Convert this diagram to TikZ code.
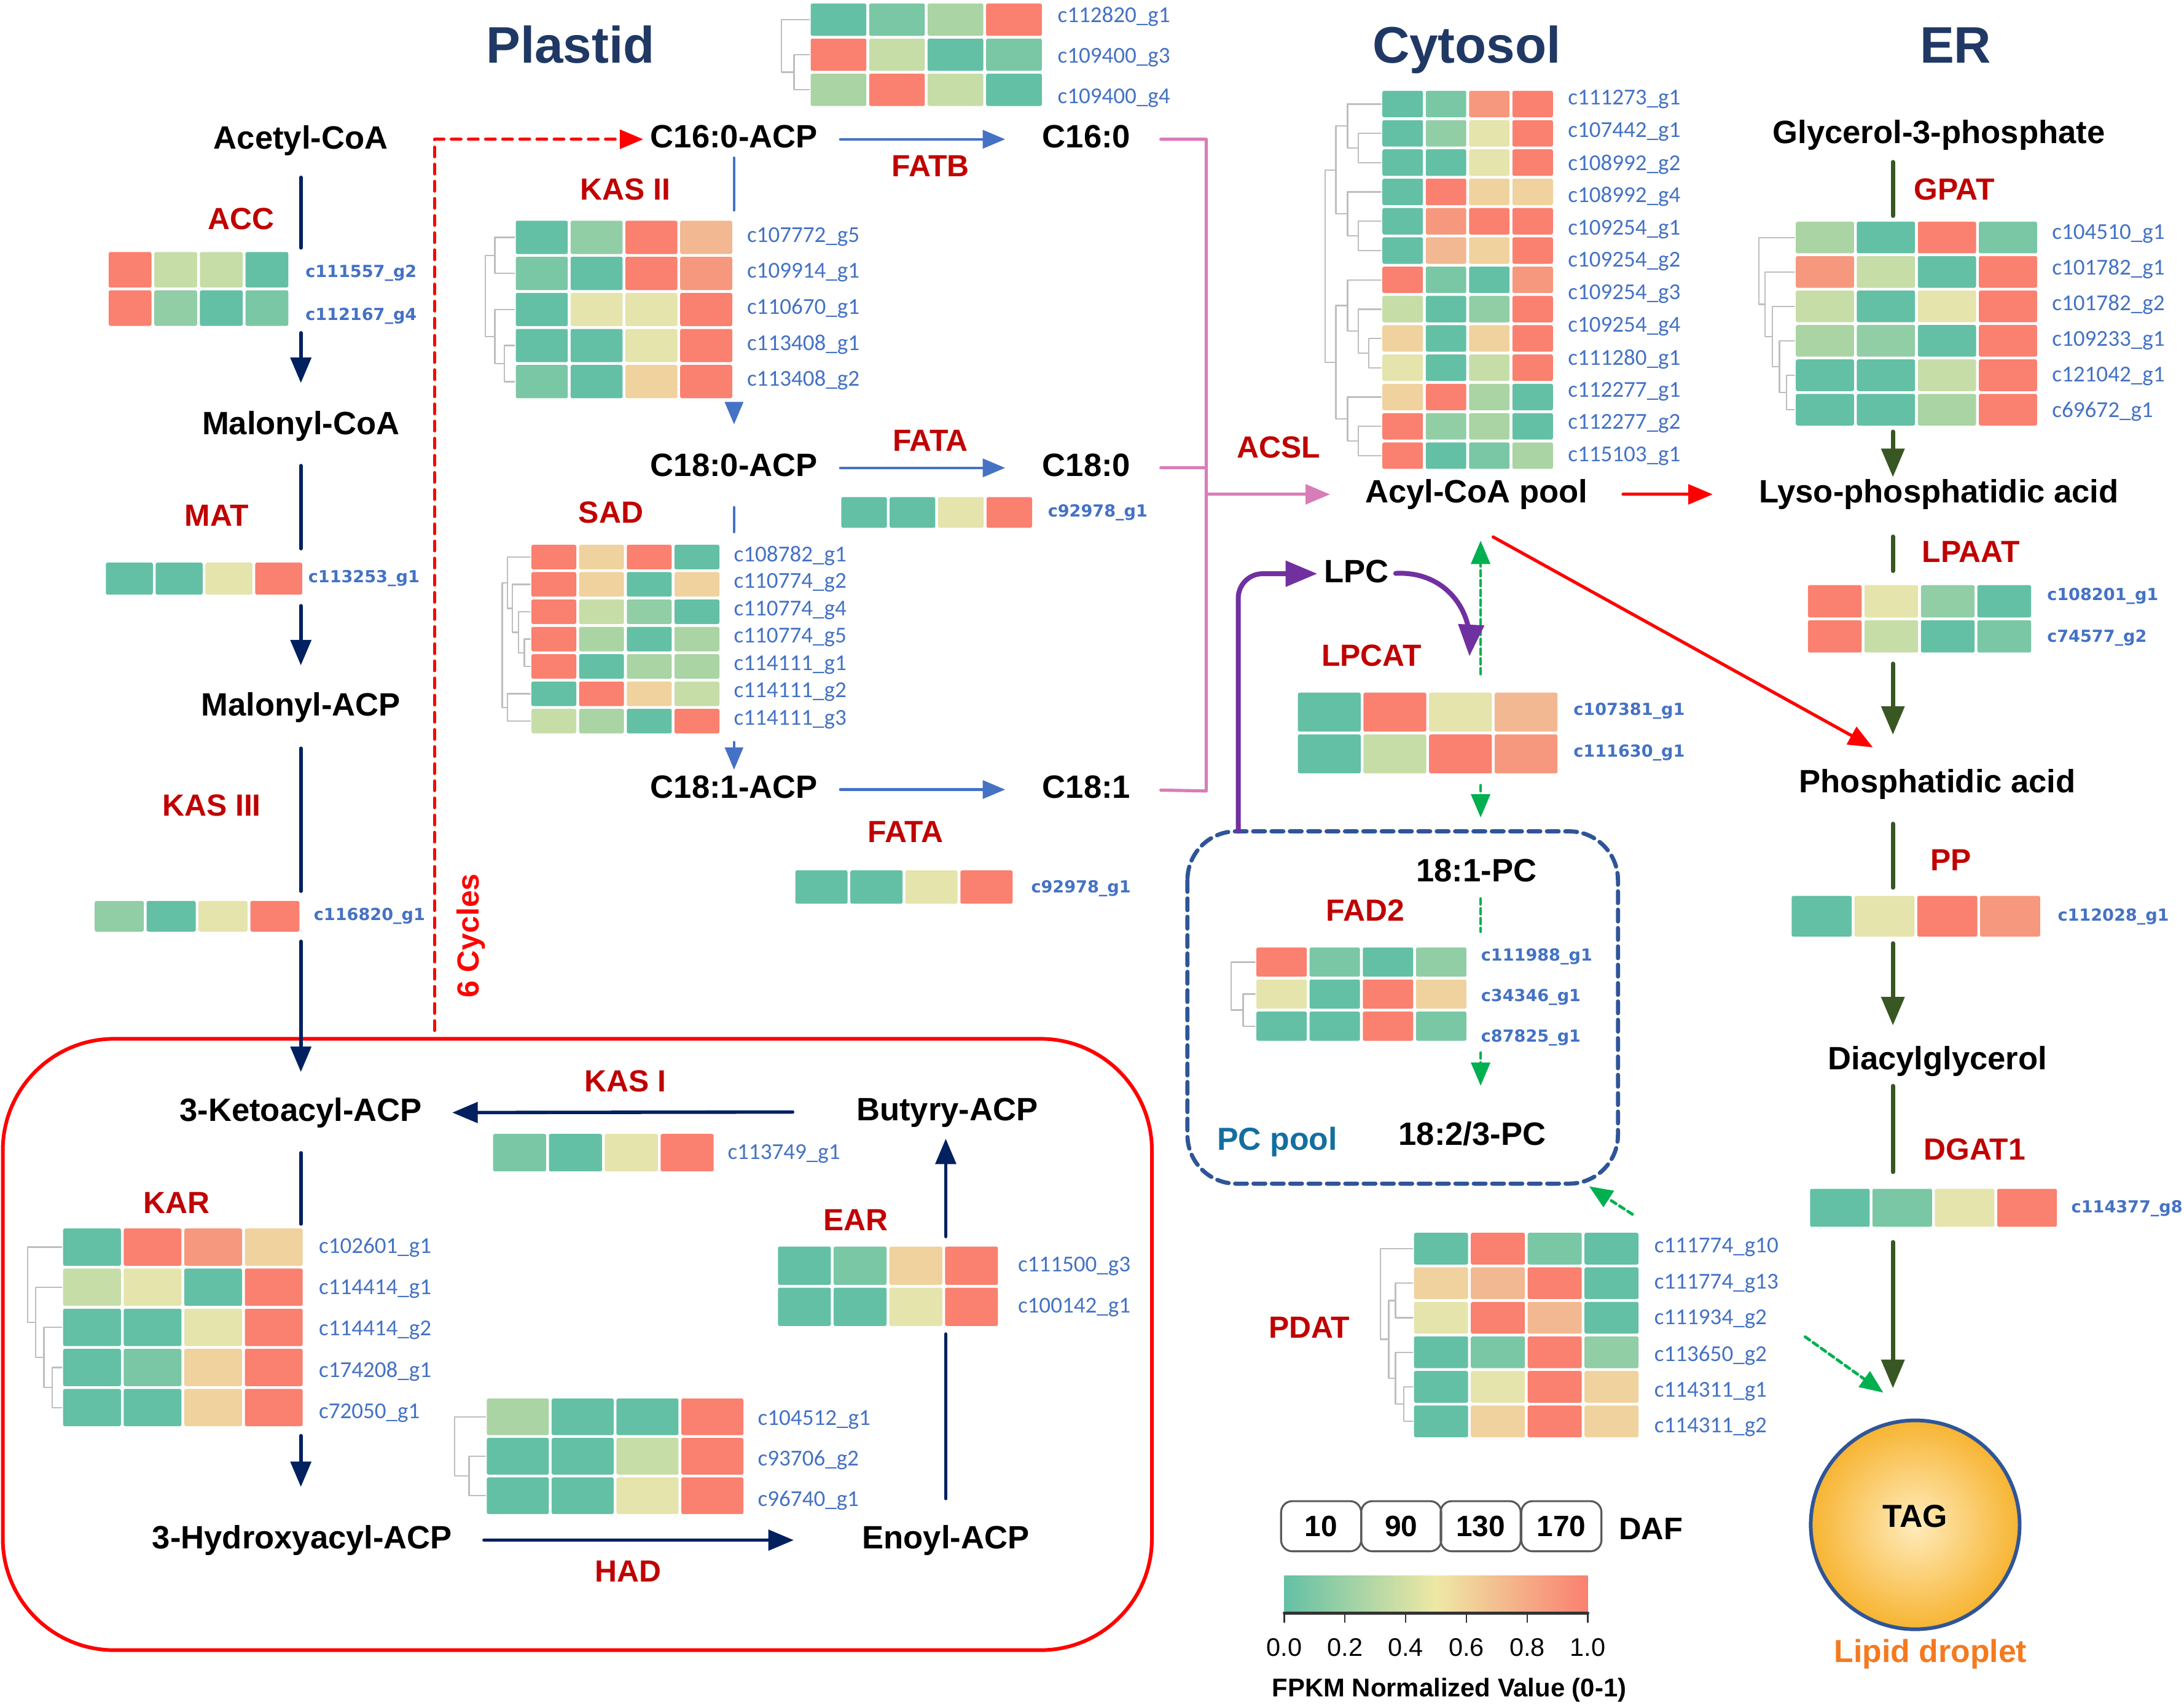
\documentclass[tikz,border=0pt]{standalone}
\usepackage{fontspec}
\setmainfont{Liberation Sans}
\newfontfamily\calfont{Carlito}
\newfontfamily\dvfont{DejaVu Sans}
\usetikzlibrary{arrows}

\definecolor{hm0}{RGB}{99,192,165}
\definecolor{hm1}{RGB}{122,199,165}
\definecolor{hm2}{RGB}{145,205,165}
\definecolor{hm3}{RGB}{170,212,163}
\definecolor{hm4}{RGB}{198,221,168}
\definecolor{hm5}{RGB}{228,228,172}
\definecolor{hm6}{RGB}{239,210,158}
\definecolor{hm7}{RGB}{242,184,145}
\definecolor{hm8}{RGB}{246,152,125}
\definecolor{hm9}{RGB}{250,128,112}
\definecolor{barmid}{RGB}{238,232,165}
\definecolor{navyarr}{RGB}{0,32,96}
\definecolor{titleblue}{RGB}{32,56,100}
\definecolor{enzred}{RGB}{192,0,0}
\definecolor{geneblue}{RGB}{68,114,196}
\definecolor{flowblue}{RGB}{68,114,196}
\definecolor{ergreen}{RGB}{56,87,35}
\definecolor{acslpink}{RGB}{217,125,185}
\definecolor{lpcpurple}{RGB}{112,48,160}
\definecolor{dashgreen}{RGB}{0,176,80}
\definecolor{poolblue}{RGB}{47,85,151}
\definecolor{pooltext}{RGB}{20,110,160}
\definecolor{dropor}{RGB}{244,122,32}
\definecolor{tagin}{RGB}{255,236,188}
\definecolor{tagout}{RGB}{247,180,50}
\definecolor{dendgray}{RGB}{190,190,190}

\tikzset{
  cpd/.style={font=\bfseries\fontsize{13.2}{14}\selectfont, inner sep=0pt, text height=9.9pt, text depth=2.9pt},
  enz/.style={text=enzred, font=\bfseries\fontsize{12.5}{13}\selectfont, inner sep=0pt, text height=9.4pt, text depth=2.7pt},
  ttl/.style={text=titleblue, font=\bfseries\fontsize{21}{24}\selectfont, anchor=base, inner sep=0pt},
  gene/.style={anchor=west, inner sep=0pt, text=geneblue, font=\calfont\fontsize{9.3}{10}\selectfont},
  genew/.style={anchor=west, inner sep=0pt, text=geneblue, font=\dvfont\bfseries\fontsize{6.8}{8}\selectfont},
  navyl/.style={draw=navyarr, line width=1.4pt},
  bluel/.style={draw=flowblue, line width=1.1pt},
  greenl/.style={draw=ergreen, line width=1.7pt},
  pinkl/.style={draw=acslpink, line width=1.3pt},
  redl/.style={draw=red, line width=1.3pt},
  purpl/.style={draw=lpcpurple, line width=2pt},
  gdash/.style={draw=dashgreen, line width=1.2pt, dash pattern=on 2.3pt off 1.7pt},
  dendro/.style={draw=dendgray, line width=0.6pt},
  dafbox/.style={draw=gray!70!black, line width=0.8pt, rounded corners=1.6mm, minimum width=11.5mm, minimum height=7.2mm, inner sep=0pt, font=\bfseries\fontsize{12}{13}\selectfont}
}

% heatmap: x0, y0, cell width, cell height, rows of four levels
\newcommand{\hmap}[5]{%
  \foreach \pa/\pb/\pc/\pd [count=\hr from 0] in {#5}{
    \foreach \hv [count=\hk from 0] in {\pa,\pb,\pc,\pd}
      \fill[hm\hv, rounded corners=0.25mm] ({#1+\hk*#3+1},{#2+\hr*#4+1}) rectangle ({#1+(\hk+1)*#3-1},{#2+(\hr+1)*#4-1});
  }}
% gene ids: name, x, y0, step, style, ids
\newcommand{\genes}[6]{%
  \foreach \gid [count=\gi from 0] in {#6}
    \node[#5] (#1\gi) at (#2,{#3+\gi*#4}) {\gid};}
% dendrogram join
\newcommand{\dg}[5]{\draw[dendro] (#2,#3) -- (#1,#3) -- (#1,#5) -- (#4,#5);}

\begin{document}
\begin{tikzpicture}[line cap=round,line join=round,>=triangle 45,x=0.2mm,y=-0.2mm]
\useasboundingbox (0,0) rectangle (1568,1224);

\node[ttl] (plastid) at (409.5,45) {Plastid};
\node[ttl] (cytosol) at (1053,45) {Cytosol};
\node[ttl] (er) at (1404,45) {ER};

\node[cpd] (acetyl) at (216,101) {Acetyl-CoA};
\node[cpd] (malcoa) at (216,306) {Malonyl-CoA};
\node[cpd] (malacp) at (216,508) {Malonyl-ACP};
\node[cpd] (keto) at (216,799) {3-Ketoacyl-ACP};
\node[cpd] (hydroxy) at (217,1106) {3-Hydroxyacyl-ACP};
\node[cpd] (enoyl) at (679,1106) {Enoyl-ACP};
\node[cpd] (butyry) at (680,798.5) {Butyry-ACP};
\node[cpd] (c16acp) at (527,100) {C16:0-ACP};
\node[cpd] (c18acp) at (527,336) {C18:0-ACP};
\node[cpd] (c181acp) at (527,567) {C18:1-ACP};
\node[cpd] (c16) at (780,100) {C16:0};
\node[cpd] (c18) at (780,336) {C18:0};
\node[cpd] (c181) at (780,567) {C18:1};
\node[cpd] (acyl) at (1060,355) {Acyl-CoA pool};
\node[cpd] (lpc) at (974,412) {LPC};
\node[cpd] (pc181) at (1060,627) {18:1-PC};
\node[cpd] (pc183) at (1057,816) {18:2/3-PC};
\node[cpd] (g3p) at (1392,97) {Glycerol-3-phosphate};
\node[cpd] (lpa) at (1392,355) {Lyso-phosphatidic acid};
\node[cpd] (pa) at (1391,563) {Phosphatidic acid};
\node[cpd] (dag) at (1391,762) {Diacylglycerol};

\node[enz] (acc) at (173.3,159) {ACC};
\node[enz] (mat) at (155.6,372) {MAT};
\node[enz] (kas3) at (152,580) {KAS III};
\node[enz] (kas2) at (449,137.6) {KAS II};
\node[enz] (fatb) at (668,121) {FATB};
\node[enz] (fata) at (668,318) {FATA};
\node[enz] (sad) at (438.6,369.6) {SAD};
\node[enz] (fatb2) at (650,599) {FATA};
\node[enz] (acsl) at (918,323) {ACSL};
\node[enz] (gpat) at (1403,137.6) {GPAT};
\node[enz] (lpaat) at (1415,398) {LPAAT};
\node[enz] (pp) at (1400.5,619.4) {PP};
\node[enz] (dgat) at (1417.8,827) {DGAT1};
\node[enz] (lpcat) at (984.6,472.4) {LPCAT};
\node[enz] (fad2) at (980.3,655.4) {FAD2};
\node[enz] (pdat) at (940,955) {PDAT};
\node[enz] (kas1) at (449,777.9) {KAS I};
\node[enz] (kar) at (126.6,865.5) {KAR};
\node[enz] (ear) at (614.4,877.8) {EAR};
\node[enz] (had) at (451,1130) {HAD};
\node[enz, text=red, rotate=90] (cycles) at (338,672) {6 Cycles};

\coordinate (accT) at (216,178); \coordinate (accB) at (216,239);
\coordinate (matT) at (216,394); \coordinate (matB) at (216,435);
\coordinate (k3T) at (216,640); \coordinate (k3B) at (216,676);
\coordinate (karT) at (216,879); \coordinate (karB) at (216,1031);
\coordinate (earB) at (679,958); \coordinate (earT) at (679,888);
\coordinate (k2T) at (527,151); \coordinate (k2B) at (527,290);
\coordinate (sadT) at (527,382); \coordinate (sadB) at (527,533);
\coordinate (brT) at (866,100); \coordinate (brM) at (866,336);
\coordinate (brB) at (866,568); \coordinate (brA) at (866,355);
\coordinate (gpT) at (1359,155); \coordinate (gpB) at (1359,310);
\coordinate (lpT) at (1359,410); \coordinate (lpB) at (1359,476.6);
\coordinate (ppT) at (1359,637.4); \coordinate (ppB) at (1359,677.4);
\coordinate (dgT) at (1359,841.6); \coordinate (dgB) at (1359,892);
\coordinate (cyc) at (312,740);
\coordinate (lcUp) at (1063,484); \coordinate (lcDn) at (1063,564); \coordinate (pcIn) at (1063,587);
\coordinate (fdT) at (1063,669); \coordinate (fdB) at (1063,756);
\coordinate (pdS) at (1172,872); \coordinate (pdE) at (1141,852);
\coordinate (tgS) at (1296,960); \coordinate (tgE) at (1352,1000);
\coordinate (pcT) at (889,597); \coordinate (lpcIn) at (1055,471);

\draw[red, line width=1.5pt, rounded corners=16mm] (2,746) rectangle (827,1185);
\draw[poolblue, line width=1.7pt, dash pattern=on 4.8pt off 2.7pt, rounded corners=7mm] (852.5,597) rectangle (1161.6,850);
\node[font=\bfseries\fontsize{13}{14}\selectfont, text=pooltext, inner sep=0pt] (pcpool) at (917,820) {PC pool};

\draw[navyl, shorten <=2.95mm] (acetyl.south) -- (accT);
\draw[navyl, ->, shorten >=3.9mm] (accB) -- (malcoa.north);
\draw[navyl, shorten <=3.35mm] (malcoa.south) -- (matT);
\draw[navyl, ->, shorten >=3.75mm] (matB) -- (malacp.north);
\draw[navyl, shorten <=3.55mm] (malacp.south) -- (k3T);
\draw[navyl, ->, shorten >=3.55mm] (k3B) -- (keto.north);
\draw[navyl, shorten <=3.45mm] (keto.south) -- (karT);
\draw[navyl, ->, shorten >=5.35mm] (karB) -- (hydroxy.north -| karB);
\draw[navyl, ->, shorten <=4.5mm, shorten >=9.8mm] (hydroxy.east) -- (enoyl.west);
\draw[navyl, shorten <=3.65mm] (enoyl.north) -- (earB);
\draw[navyl, ->, shorten >=1.55mm] (earT) -- (butyry.south -| earT);
\draw[navyl, ->, shorten <=9.1mm, shorten >=4.3mm] (butyry.west) -- (keto.east);

\draw[red, line width=1.2pt, dash pattern=on 4pt off 3pt, ->, shorten >=1mm] (cyc) |- (c16acp.west);

\draw[bluel, ->, shorten <=3.2mm, shorten >=5.3mm] (c16acp.east) -- (c16.west);
\draw[bluel, ->, shorten <=3.2mm, shorten >=5.3mm] (c18acp.east) -- (c18.west);
\draw[bluel, ->, shorten <=3.2mm, shorten >=5.3mm] (c181acp.east) -- (c181.west);
\draw[bluel, shorten <=0.35mm] (c16acp.south) -- (k2T);
\draw[bluel, ->, shorten >=3.95mm] (k2B) -- (c18acp.north);
\draw[bluel, shorten <=3.35mm] (c18acp.south) -- (sadT);
\draw[bluel, ->, shorten >=0.55mm] (sadB) -- (c181acp.north);

\draw[pinkl, shorten <=4.3mm, shorten >=4.3mm] (c16.east) -- (brT) -- (brB) -- (c181.east);
\draw[pinkl, shorten <=4.3mm] (c18.east) -- (brM);
\draw[pinkl, ->, shorten >=5mm] (brA) -- (acyl.west);

\draw[redl, ->, shorten <=5mm, shorten >=6.6mm] (acyl.east) -- (lpa.west);
\draw[redl, ->] ([xshift=2.4mm,yshift=-3.8mm]acyl.south) -- ([xshift=-9.3mm,yshift=2.95mm]pa.north);

\draw[greenl, shorten <=1.55mm] (g3p.south -| gpT) -- (gpT);
\draw[greenl, ->, shorten >=0.2mm] (gpB) -- (lpa.north -| gpB);
\draw[greenl, shorten <=3.75mm] (lpa.south -| lpT) -- (lpT);
\draw[greenl, ->, shorten >=4.8mm] (lpB) -- (pa.north -| lpB);
\draw[greenl, shorten <=3.4mm] (pa.south -| ppT) -- (ppT);
\draw[greenl, ->, shorten >=2.85mm] (ppB) -- (dag.north -| ppB);
\draw[greenl, shorten <=1.25mm] (dag.south -| dgT) -- (dgT);

\node[circle, minimum size=30mm, inner sep=0pt, draw=poolblue, line width=1.5pt, inner color=tagin, outer color=tagout] (tag) at (1375,1095) {};
\node[font=\bfseries\fontsize{13}{14}\selectfont, inner sep=0pt] (taglbl) at (1375,1089) {TAG};
\node[text=dropor, font=\bfseries\fontsize{13}{14}\selectfont, inner sep=0pt] (droplet) at (1386,1188) {Lipid droplet};
\draw[greenl, ->, shorten >=4.4mm] (dgB) -- (tag.north -| dgB);

\draw[gdash, ->, shorten >=4.35mm] (lcUp) -- (acyl.south -| lcUp);
\draw[gdash, ->] (lcDn) -- (pcIn);
\draw[gdash, shorten <=1.35mm] (pc181.south -| fdT) -- (fdT);
\draw[gdash, ->, shorten >=4.95mm] (fdB) -- (pc183.north -| fdB);
\draw[gdash, ->] (pdS) -- (pdE);
\draw[gdash, ->] (tgS) -- (tgE);

\draw[purpl, ->, rounded corners=3.5mm, shorten >=1mm] (pcT) |- (lpc.west);
\draw[purpl, ->, shorten <=0.9mm] (lpc.east) .. controls (1035,410) and (1057,435) .. (lpcIn);

% heatmaps
\hmap{581}{1.5}{42}{25.2}{0/1/3/9, 9/4/0/1, 3/9/4/0}
\genes{topg}{759}{11.8}{29.4}{gene}{c112820\_g1, c109400\_g3, c109400\_g4}
\dg{570}{581}{39.3}{581}{64.5}
\dg{561}{581}{14.1}{570}{51.9}

\hmap{77}{180}{32.75}{27.5}{9/4/4/0, 9/2/0/1}
\genes{accg}{219}{196.2}{30.7}{genew}{c111557\_g2, c112167\_g4}

\hmap{75}{403}{35.75}{25}{0/0/5/9}
\genes{matg}{221}{415.5}{0}{genew}{c113253\_g1}

\hmap{369.3}{157.5}{39.35}{25.9}{0/2/9/7, 1/0/9/8, 0/5/5/9, 0/0/5/9, 1/0/6/9}
\genes{kasg}{536}{170}{25.75}{gene}{c107772\_g5, c109914\_g1, c110670\_g1, c113408\_g1, c113408\_g2}
\dg{362}{369.3}{248.15}{369.3}{274.05}
\dg{355.3}{369.3}{222.25}{362}{261.1}
\dg{355.3}{369.3}{170.45}{369.3}{196.35}
\dg{348.4}{355.3}{183.4}{355.3}{241.7}

\hmap{603}{356}{34.75}{24}{0/0/5/9}
\genes{fataag}{752}{368}{0}{genew}{c92978\_g1}

\hmap{380.5}{390.2}{34.25}{19.64}{9/6/9/0, 9/6/0/6, 9/4/2/0, 9/3/0/3, 9/0/3/3, 0/9/6/4, 4/3/0/9}
\genes{sadg}{526.6}{399}{19.6}{gene}{c108782\_g1, c110774\_g2, c110774\_g4, c110774\_g5, c114111\_g1, c114111\_g2, c114111\_g3}
\dg{376.5}{380.5}{459.0}{380.5}{478.6}
\dg{372.2}{380.5}{439.3}{376.5}{468.8}
\dg{367.9}{380.5}{419.7}{372.2}{454.05}
\dg{364.4}{380.5}{400.0}{367.9}{436.9}
\dg{364.4}{380.5}{498.2}{380.5}{517.9}
\dg{360.5}{364.4}{418.45}{364.4}{508.05}

\hmap{67}{646}{37.25}{24}{2/0/5/9}
\genes{kastg}{225}{658}{0}{genew}{c116820\_g1}

\hmap{570}{624}{39.5}{26}{0/0/5/9}
\genes{fatabg}{740}{638}{0}{genew}{c92978\_g1}

\hmap{991.5}{64.2}{31.1}{21.04}{0/1/8/9, 0/2/5/9, 0/0/5/9, 0/9/6/6, 0/8/9/9, 0/7/6/9, 9/1/0/8, 4/0/2/9, 6/0/6/9, 5/0/4/9, 6/9/3/0, 9/2/3/0, 9/0/1/3}
\genes{acslg}{1125.4}{71.5}{23.29}{gene}{c111273\_g1, c107442\_g1, c108992\_g2, c108992\_g4, c109254\_g1, c109254\_g2, c109254\_g3, c109254\_g4, c111280\_g1, c112277\_g1, c112277\_g2, c115103\_g1}
\dg{975.1}{991.5}{95.8}{991.5}{116.8}
\dg{967.4}{991.5}{74.7}{975.1}{106.3}
\dg{975.1}{991.5}{158.9}{991.5}{179.9}
\dg{967.4}{991.5}{137.8}{975.1}{169.4}
\dg{959.1}{967.4}{90.5}{967.4}{153.6}
\dg{982.8}{991.5}{243.0}{991.5}{264.1}
\dg{975.1}{991.5}{222.0}{982.8}{253.55}
\dg{967.4}{991.5}{201.0}{975.1}{237.8}
\dg{975.1}{991.5}{306.2}{991.5}{327.2}
\dg{967.4}{991.5}{285.1}{975.1}{316.7}
\dg{959.1}{967.4}{219.4}{967.4}{300.9}
\dg{951.5}{959.1}{122.05}{959.1}{260.15}

\hmap{1288.3}{158.2}{43.8}{24.73}{3/0/9/1, 8/4/0/9, 4/0/5/9, 3/2/0/9, 0/0/4/9, 0/0/3/9}
\genes{gpatg}{1473}{167.7}{25.6}{gene}{c104510\_g1, c101782\_g1, c101782\_g2, c109233\_g1, c121042\_g1, c69672\_g1}
\dg{1282.6}{1288.3}{269.5}{1288.3}{294.3}
\dg{1277.5}{1288.3}{244.8}{1282.6}{281.9}
\dg{1272.4}{1288.3}{220.0}{1277.5}{263.35}
\dg{1267.3}{1288.3}{195.3}{1272.4}{241.7}
\dg{1262.7}{1288.3}{170.6}{1267.3}{218.5}

\hmap{1297}{419.2}{40.55}{25.2}{9/5/2/0, 9/4/0/1}
\genes{lpaatg}{1469.4}{428.1}{30}{genew}{c108201\_g1, c74577\_g2}

\hmap{930.8}{496.4}{47.1}{30}{0/9/5/7, 0/4/9/8}
\genes{lpcatg}{1129.4}{510.8}{29.7}{genew}{c107381\_g1, c111630\_g1}

\hmap{901}{679.4}{38.2}{23}{9/1/0/2, 5/0/9/6, 0/0/9/1}
\genes{fadg}{1063}{686.8}{29.25}{genew}{c111988\_g1, c34346\_g1, c87825\_g1}
\dg{892.5}{901}{713.9}{901}{736.9}
\dg{884}{901}{690.9}{892.5}{725.4}

\hmap{1285.3}{642.3}{45.1}{31.3}{0/5/9/8}
\genes{ppg}{1477}{658.3}{0}{genew}{c112028\_g1}

\hmap{1298.5}{852.7}{44.8}{29.3}{0/1/5/9}
\genes{dgatg}{1486.8}{868}{0}{genew}{c114377\_g8}

\hmap{1014.2}{884.3}{40.8}{24.8}{0/9/1/0, 6/7/9/0, 5/9/7/0, 0/1/9/2, 0/5/9/6, 0/6/9/6}
\genes{pdatg}{1187.4}{895.6}{25.9}{gene}{c111774\_g10, c111774\_g13, c111934\_g2, c113650\_g2, c114311\_g1, c114311\_g2}
\dg{1007.8}{1014.2}{995.9}{1014.2}{1020.7}
\dg{1001.9}{1014.2}{971.1}{1007.8}{1008.3}
\dg{1001.9}{1014.2}{921.5}{1014.2}{946.3}
\dg{997}{1001.9}{933.9}{1001.9}{989.7}
\dg{991.1}{1014.2}{896.7}{997}{961.8}

\hmap{353}{813.3}{40.1}{28.9}{1/0/5/9}
\genes{kasig}{522.1}{828.8}{0}{gene}{c113749\_g1}

\hmap{44.3}{881.2}{43.5}{28.8}{0/9/8/6, 4/5/0/9, 0/0/5/9, 0/1/6/9, 0/0/6/9}
\genes{karg}{228.6}{895.8}{29.7}{gene}{c102601\_g1, c114414\_g1, c114414\_g2, c174208\_g1, c72050\_g1}
\dg{37.6}{44.3}{982.0}{44.3}{1010.8}
\dg{31.6}{44.3}{953.2}{37.6}{996.4}
\dg{25.7}{44.3}{924.4}{31.6}{974.8}
\dg{19.8}{44.3}{895.6}{25.7}{949.6}

\hmap{557.5}{894.2}{40}{29.5}{0/1/6/9, 0/0/5/9}
\genes{earg}{730.5}{909.2}{29.8}{gene}{c111500\_g3, c100142\_g1}

\hmap{348.5}{1003.3}{46.55}{28.33}{3/0/0/9, 0/0/4/9, 0/0/5/9}
\genes{hadg}{543.8}{1019.4}{29}{gene}{c104512\_g1, c93706\_g2, c96740\_g1}
\dg{336.7}{348.5}{1045.8}{348.5}{1074.1}
\dg{326.3}{348.5}{1017.5}{336.7}{1059.95}

% legend
\node[dafbox] (daf1) at (948.5,1096) {10};
\node[dafbox] (daf2) at (1006,1096) {90};
\node[dafbox] (daf3) at (1063,1096) {130};
\node[dafbox] (daf4) at (1121,1096) {170};
\node[font=\bfseries\fontsize{12.7}{14}\selectfont, inner sep=0pt] (daf) at (1185.3,1098) {DAF};
\shade[left color=hm0, right color=hm9, middle color=barmid] (922,1131.6) rectangle (1140,1157.4);
\draw[black!80, line width=1.2pt] (922,1158.5) -- (1140,1158.5);
\foreach \t [count=\i from 0] in {0.0,0.2,0.4,0.6,0.8,1.0}{
  \draw[black!80, line width=0.6pt] ({922+\i*43.6},1158.5) -- ({922+\i*43.6},1165);
  \node[font=\fontsize{10.4}{12}\selectfont, inner sep=0pt] (tick\i) at ({922+\i*43.6},1183) {\t};
}
\node[font=\bfseries\fontsize{10.5}{12}\selectfont, inner sep=0pt] (fpkm) at (1040.5,1213.5) {FPKM Normalized Value (0-1)};
\end{tikzpicture}
\end{document}
